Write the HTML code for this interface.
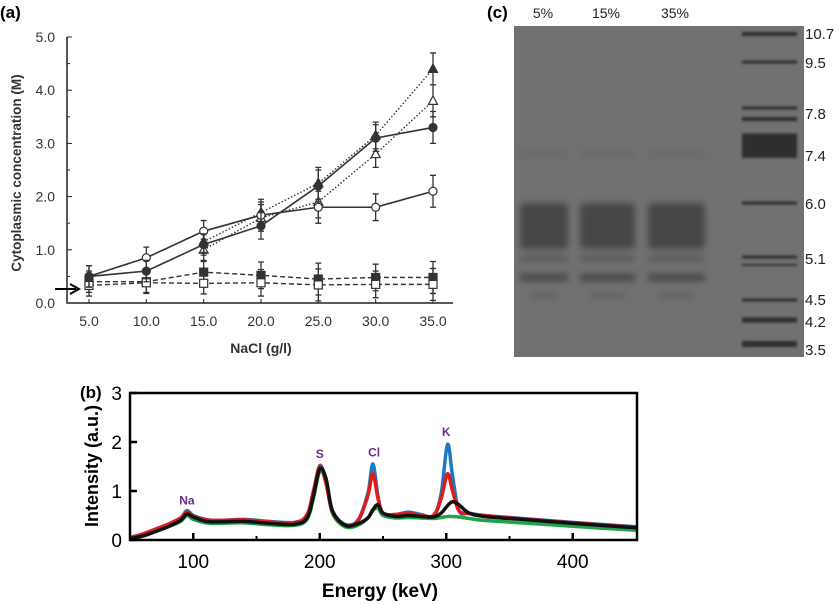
<!DOCTYPE html>
<html><head><meta charset="utf-8"><style>
body{margin:0;background:#fff;width:840px;height:605px;overflow:hidden;font-family:"Liberation Sans",sans-serif}
svg{position:absolute;left:0;top:0}
</style></head><body>
<svg width="840" height="605" font-family="Liberation Sans, sans-serif">
<defs>
<filter id="blur3"><feGaussianBlur stdDeviation="3.5"/></filter>
<filter id="blur1"><feGaussianBlur stdDeviation="1.2"/></filter>
</defs>
<g id="pa"></g>
<g id="pb"></g>
<g id="pc"></g>
</svg>
<script>
// ---------- Panel A data ----------
const aX = [5,10,15,20,25,30,35];
const aTicksX = ["5.0","10.0","15.0","20.0","25.0","30.0","35.0"];
const aTicksY = [0,1,2,3,4,5];
const aFilledCircle = [0.5,0.6,1.1,1.45,2.2,3.1,3.3];
const aOpenCircle = [0.5,0.85,1.35,1.65,1.8,1.8,2.1];
const aFilledTri = [null,null,1.15,1.7,2.25,3.15,4.4];
const aOpenTri = [null,null,1.0,1.6,1.9,2.8,3.8];
const aFilledSq = [0.4,0.4,0.58,0.52,0.45,0.48,0.48];
const aOpenSq = [0.33,0.38,0.37,0.38,0.34,0.35,0.35];
const aErr = [0.2,0.2,0.2,0.25,0.3,0.25,0.3];
// ---------- Panel B data ----------
const bE = [50,60,70,80,90,95,100,110,120,140,160,180,190,195,200,205,210,220,230,238,242,246,250,260,270,280,290,296,301,305,310,318,330,360,400,450];
const bBlue = [0.05,0.12,0.22,0.32,0.45,0.6,0.5,0.42,0.4,0.42,0.38,0.36,0.5,0.95,1.52,1.2,0.6,0.32,0.4,0.95,1.55,0.9,0.55,0.52,0.57,0.52,0.5,0.95,1.95,1.3,0.6,0.55,0.5,0.44,0.36,0.27];
const bRed = [0.05,0.12,0.22,0.32,0.45,0.57,0.48,0.41,0.4,0.41,0.37,0.35,0.52,1.0,1.5,1.15,0.58,0.3,0.38,0.9,1.35,0.85,0.55,0.52,0.55,0.5,0.5,0.85,1.35,1.0,0.6,0.54,0.5,0.43,0.35,0.26];
const bBlack = [0.03,0.08,0.17,0.27,0.4,0.53,0.47,0.38,0.37,0.38,0.34,0.32,0.45,0.9,1.45,1.25,0.6,0.3,0.33,0.45,0.62,0.72,0.55,0.48,0.5,0.48,0.47,0.55,0.7,0.78,0.72,0.55,0.48,0.42,0.34,0.25];
const bGreen = [0.05,0.1,0.18,0.27,0.38,0.5,0.42,0.35,0.34,0.35,0.31,0.3,0.42,0.85,1.4,1.2,0.55,0.27,0.3,0.45,0.6,0.65,0.5,0.45,0.46,0.45,0.44,0.46,0.48,0.48,0.47,0.44,0.4,0.35,0.28,0.2];
const bTicksX = [100,200,300,400];
const bTicksY = [0,1,2,3];
const bPeakNames = ["Na","S","Cl","K"];
const bPeakE = [95,200,243,300];
const bPeakH = [0.6,1.55,1.58,2.0];
// ---------- Panel C data ----------
const cLanes = ["5%","15%","35%"];
const cMarkers = ["10.7","9.5","7.8","7.4","6.0","5.1","4.5","4.2","3.5"];
const cMarkerY = [33,62,113,155,203,258,299,321,349];

const NS="http://www.w3.org/2000/svg";
function mk(parent,tag,attrs,text){const e=document.createElementNS(NS,tag);for(const k in attrs)e.setAttribute(k,attrs[k]);if(text!==undefined)e.textContent=text;parent.appendChild(e);return e;}

// ===== Panel A =====
(function(){
const g=document.getElementById('pa');
const X=v=>89+(v-5)*(433-89)/30, Y=v=>303-v*53.2;
let t=mk(g,'text',{x:0,y:18,'font-size':17,'font-weight':'bold'},'(a)');

let ax=mk(g,'path',{d:'M67,37 V303 H453',stroke:'#222','stroke-width':1.5,fill:'none'});

for(let v=0;v<=5;v+=0.5){mk(g,'line',{x1:67,x2:v%1===0?72:70,y1:Y(v),y2:Y(v),stroke:'#222'});}
aTicksY.forEach(v=>{const e=mk(g,'text',{x:55,y:Y(v)+5,'font-size':14,'text-anchor':'end',fill:'#333'},v.toFixed(1));});
aX.forEach((v,i)=>{mk(g,'line',{x1:X(v),x2:X(v),y1:303,y2:299,stroke:'#222'});const e=mk(g,'text',{x:X(v),y:326,'font-size':14,'text-anchor':'middle',fill:'#333'},aTicksX[i]);});
let xt=mk(g,'text',{x:261,y:353,'font-size':14,'font-weight':'bold','text-anchor':'middle',fill:'#333'},'NaCl (g/l)');

let yt=mk(g,'text',{x:0,y:0,'font-size':13.5,'font-weight':'bold','text-anchor':'middle',fill:'#333',transform:'translate(21,173) rotate(-90)'},'Cytoplasmic concentration (M)');

let ar=mk(g,'path',{d:'M55,289 H76 M70,284 L79,289 L70,294',stroke:'#000','stroke-width':2,fill:'none'});

const series=[[aFilledSq,'dash','sq',true],[aOpenSq,'dash','sq',false],[aOpenTri,'dot','tri',false],[aFilledTri,'dot','tri',true],[aOpenCircle,'solid','circ',false],[aFilledCircle,'solid','circ',true]];
series.forEach(([d,ls,shape,filled],si)=>{
 const sg=mk(g,'g',{});
 
 let p='';d.forEach((v,i)=>{if(v===null)return;p+=(p?'L':'M')+X(aX[i])+','+Y(v);});
 mk(sg,'path',{d:p,fill:'none',stroke:'#333','stroke-width':ls==='solid'?1.6:1.4,'stroke-dasharray':ls==='dash'?'5,3':ls==='dot'?'1.5,2':''});
 d.forEach((v,i)=>{if(v===null)return;const x=X(aX[i]),y=Y(v),e=aErr[i]*53.2;
  mk(sg,'path',{d:`M${x},${y-e}V${y+e}M${x-3},${y-e}H${x+3}M${x-3},${y+e}H${x+3}`,stroke:'#333','stroke-width':1.3});
  const f=filled?'#333':'#fff';let m;
  if(shape==='circ')m=mk(sg,'circle',{cx:x,cy:y,r:4,fill:f,stroke:'#333','stroke-width':1.2});
  else if(shape==='sq')m=mk(sg,'rect',{x:x-4,y:y-4,width:8,height:8,fill:f,stroke:'#333','stroke-width':1.2});
  else m=mk(sg,'path',{d:`M${x},${y-5}L${x+4.5},${y+3.5}L${x-4.5},${y+3.5}Z`,fill:f,stroke:'#333','stroke-width':1.2});
  
 });
});
})();

// ===== Panel B =====
(function(){
const g=document.getElementById('pb');
const X=v=>130+(v-50)*1.265, Y=v=>540-v*49;
let t=mk(g,'text',{x:80,y:398,'font-size':17,'font-weight':'bold'},'(b)');

mk(g,'defs',{}).innerHTML='<clipPath id="bc"><rect x="130" y="393" width="507" height="147"/></clipPath>';
const cols=[[bGreen,'#22a34a'],[bBlue,'#1f77c4'],[bRed,'#e01b1b'],[bBlack,'#111']];
const names=['series-green','series-blue','series-red','series-black'];
cols.forEach(([d,c],k)=>{
 const pts=bE.map((e,i)=>[X(e),Y(d[i])]);
 let p='M'+pts[0];
 for(let i=0;i<pts.length-1;i++){const p0=pts[Math.max(0,i-1)],p1=pts[i],p2=pts[i+1],p3=pts[Math.min(pts.length-1,i+2)];
  const c1=[p1[0]+(p2[0]-p0[0])/6,p1[1]+(p2[1]-p0[1])/6],c2=[p2[0]-(p3[0]-p1[0])/6,p2[1]-(p3[1]-p1[1])/6];
  p+=`C${c1} ${c2} ${p2}`;}
 const e=mk(g,'path',{d:p,fill:'none',stroke:c,'stroke-width':3.5,'clip-path':'url(#bc)','stroke-linejoin':'round'});
 
});
let fr=mk(g,'rect',{x:130,y:393,width:507,height:147,fill:'none',stroke:'#000','stroke-width':2.5});

bTicksY.forEach(v=>{mk(g,'line',{x1:130,x2:137,y1:Y(v),y2:Y(v),stroke:'#000','stroke-width':2.5});
 const e=mk(g,'text',{x:122,y:Y(v)+7,'font-size':19,'text-anchor':'end'},String(v));});
bTicksX.forEach(v=>{mk(g,'line',{x1:X(v),x2:X(v),y1:540,y2:533,stroke:'#000','stroke-width':2.5});
 if(v<400)mk(g,'line',{x1:X(v+50),x2:X(v+50),y1:540,y2:536,stroke:'#000','stroke-width':2});
 const e=mk(g,'text',{x:X(v),y:568,'font-size':19,'text-anchor':'middle'},String(v));});
let xt=mk(g,'text',{x:380,y:597,'font-size':19,'font-weight':'bold','text-anchor':'middle'},'Energy (keV)');

let yt=mk(g,'text',{x:0,y:0,'font-size':18,'font-weight':'bold','text-anchor':'middle',transform:'translate(98,466) rotate(-90)'},'Intensity (a.u.)');

bPeakNames.forEach((n,i)=>{const e=mk(g,'text',{x:X(bPeakE[i]),y:Y(bPeakH[i])-6,'font-size':12,'font-weight':'bold','text-anchor':'middle',fill:'#6b2d8a'},n);});
})();

// ===== Panel C =====
(function(){
const g=document.getElementById('pc');
let t=mk(g,'text',{x:487,y:18,'font-size':17,'font-weight':'bold'},'(c)');

const gel=mk(g,'g',{});
mk(gel,'rect',{x:514,y:26,width:290,height:331,fill:'#717171'});
const lx=[[520,568],[580,635],[648,705]];
lx.forEach(([a,b],i)=>{
 const lg=mk(gel,'g',{filter:'url(#blur3)'});
 mk(lg,'rect',{x:a,y:203,width:b-a,height:46,fill:'#474747',rx:4});
 mk(lg,'rect',{x:a,y:256,width:b-a,height:5,fill:'#555'});
 mk(lg,'rect',{x:a,y:274,width:b-a,height:7,fill:'#454545'});
 mk(lg,'rect',{x:a,y:152,width:b-a,height:5,fill:'#676767'});
 mk(lg,'rect',{x:a+10,y:294,width:b-a-20,height:3,fill:'#545454'});
});
const mb=[[34,4],[62,3],[108,3],[119,4],[135,3],[147,22],[203,3],[257,3],[265,2],[300,3],[320,5],[344,6]];
const mg=mk(gel,'g',{filter:'url(#blur1)'});
mb.forEach(([y,h])=>mk(mg,'rect',{x:742,y:y-h/2,width:55,height:h,fill:'#2e2e2e'}));
const lxc=[543,606,675];
cLanes.forEach((n,i)=>{const e=mk(g,'text',{x:lxc[i],y:18,'font-size':14,'text-anchor':'middle',fill:'#222'},n);});
cMarkers.forEach((n,i)=>{const e=mk(g,'text',{x:805,y:cMarkerY[i]+6,'font-size':15,fill:'#222'},n);});
})();
</script>
</body></html>
